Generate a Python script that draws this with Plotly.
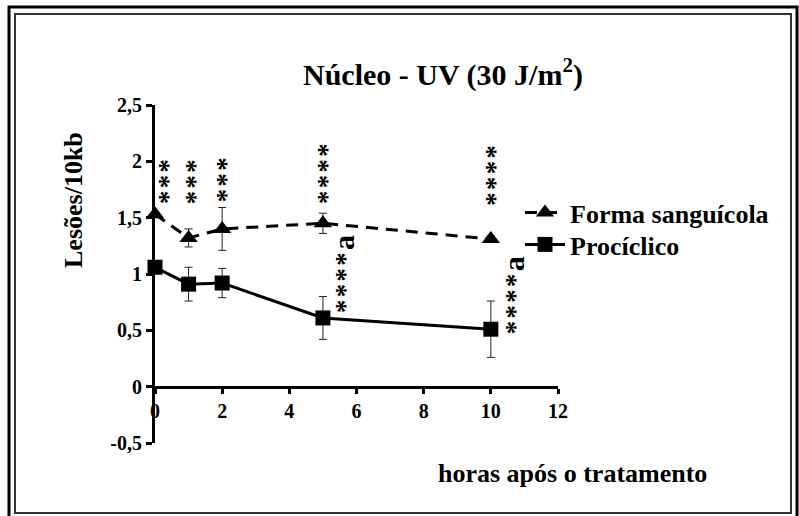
import plotly.graph_objects as go

# ---- data ----
horas = [0, 1, 2, 5, 10]
sanguicola = [1.53, 1.32, 1.40, 1.45, 1.31]
sanguicola_err = [0.02, 0.08, 0.19, 0.09, 0.03]
prociclico = [1.06, 0.91, 0.92, 0.61, 0.51]
prociclico_err = [0.0, 0.15, 0.13, 0.19, 0.25]

y_tickvals = [-0.5, 0, 0.5, 1, 1.5, 2, 2.5]
y_ticktext = ["-0,5", "0", "0,5", "1", "1,5", "2", "2,5"]
x_tickvals = [0, 2, 4, 6, 8, 10, 12]

# significance labels (stars, suffix, x, y in data units)
sig_stars = [3, 3, 3, 4, 4, 4, 4]
sig_suffix = ["", "", "", "", "", "a", "a"]
sig_x = [0.25, 1.06, 2.02, 4.98, 10.0, 5.45, 10.51]
sig_y = [1.82, 1.82, 1.84, 1.89, 1.88, 1.00, 0.81]

FONT = "Liberation Serif, Times New Roman, serif"
HAIR = "\u200a"

fig = go.Figure()
fig.add_trace(go.Scatter(
    x=horas, y=sanguicola, name="Forma sanguícola",
    mode="lines+markers",
    line=dict(color="black", width=3, dash="12px,8px"),
    marker=dict(symbol="triangle-up", size=16, color="black"),
    error_y=dict(type="data", array=sanguicola_err, visible=True,
                 color="#222222", thickness=1, width=4),
    cliponaxis=False, legend="legend",
))
fig.add_trace(go.Scatter(
    x=horas, y=prociclico, name="Procíclico",
    mode="lines+markers",
    line=dict(color="black", width=3),
    marker=dict(symbol="square", size=15, color="black"),
    error_y=dict(type="data", array=prociclico_err, visible=True,
                 color="#222222", thickness=1, width=4),
    cliponaxis=False, legend="legend2",
))

L, R, T, B = 155, 241, 105, 73
W, H = 799, 516
pw = W - L - R
ph = H - T - B


def px(xp):
    return (xp - L) / pw


def py(yp):
    return (H - B - yp) / ph


annotations = []
for n, suf, xx, yy in zip(sig_stars, sig_suffix, sig_x, sig_y):
    txt = HAIR.join(["*"] * n)
    if suf:
        txt += HAIR + "<span style='font-size:30px'>" + suf + "</span>"
    annotations.append(dict(
        x=xx, y=yy, xref="x", yref="y", text=txt, showarrow=False,
        xanchor="center", yanchor="middle", xshift=4 if not suf else 5,
        textangle=-90, font=dict(family=FONT, size=27, color="black", weight="bold"),
    ))

annotations.append(dict(
    x=px(443), y=py(72), xref="paper", yref="paper",
    xanchor="center", yanchor="middle",
    text="Núcleo - UV (30 J/m<sup>2</sup>)", showarrow=False,
    font=dict(family=FONT, size=30, color="black", weight="bold"),
))
annotations.append(dict(
    x=px(572), y=py(474), xref="paper", yref="paper",
    xanchor="center", yanchor="middle",
    text="horas após o tratamento", showarrow=False,
    font=dict(family=FONT, size=26, color="black", weight="bold"),
))
annotations.append(dict(
    x=px(73), y=py(200), xref="paper", yref="paper",
    xanchor="center", yanchor="middle",
    text="Lesões/10kb", showarrow=False, textangle=-90,
    font=dict(family=FONT, size=26, color="black", weight="bold"),
))

shapes = [
    dict(type="rect", xref="paper", yref="paper",
         x0=px(9), x1=px(797), y0=py(7), y1=py(530),
         line=dict(color="black", width=3)),
    dict(type="rect", xref="paper", yref="paper",
         x0=px(15), x1=px(791), y0=py(14), y1=py(513),
         line=dict(color="#333333", width=2)),
]

legend_font = dict(family=FONT, size=26, color="black", weight="bold")
fig.update_layout(
    width=W, height=H,
    margin=dict(l=L, r=R, t=T, b=B, pad=0),
    paper_bgcolor="white", plot_bgcolor="white",
    showlegend=True,
    legend=dict(x=px(520), y=py(189), xanchor="left", yanchor="top",
                font=legend_font, itemwidth=40, bgcolor="rgba(0,0,0,0)"),
    legend2=dict(x=px(520), y=py(221), xanchor="left", yanchor="top",
                 font=legend_font, itemwidth=40, bgcolor="rgba(0,0,0,0)"),
    annotations=annotations,
    shapes=shapes,
    xaxis=dict(range=[0, 12], tickvals=x_tickvals, showgrid=False, zeroline=False,
               showline=True, linecolor="black", linewidth=3,
               ticks="outside", ticklen=5, tickwidth=3, tickcolor="black",
               anchor="free", position=1/6,
               tickfont=dict(family=FONT, size=20, color="black", weight="bold")),
    yaxis=dict(range=[-0.5, 2.5], tickvals=y_tickvals, ticktext=y_ticktext,
               showgrid=False, zeroline=False,
               showline=True, linecolor="black", linewidth=3,
               ticks="outside", ticklen=6, tickwidth=3, tickcolor="black",
               tickfont=dict(family=FONT, size=20, color="black", weight="bold")),
)

fig.write_html(
    "out.html",
    config={"displayModeBar": False},
    post_script="document.body.style.margin='0px';document.body.style.overflow='hidden';",
)
